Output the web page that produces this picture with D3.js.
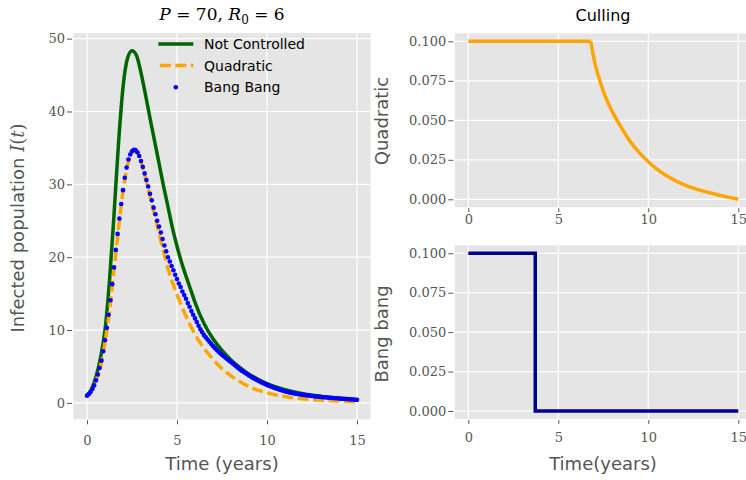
<!DOCTYPE html>
<html><head><meta charset="utf-8">
<script src="https://cdn.jsdelivr.net/npm/d3@7"></script>
<style>body{margin:0;background:#fff}</style>
</head><body>
<svg id="c" width="746" height="480"></svg>
<script>
// ---------- data ----------
const timeNC = [0,0.25,0.5,0.75,1,1.25,1.5,1.75,2,2.25,2.5,2.75,3,3.25,3.5,3.75,4,4.25,4.5,4.75,5,5.25,5.5,5.75,6,6.5,7,7.5,8,8.5,9,9.5,10,11,12,13,14,15];
const notControlled = [1.0,1.9,3.6,6.2,10.0,16.8,25.8,35.6,43.3,47.3,48.35,47.7,45.3,42.3,39.1,36.0,32.9,29.8,26.9,24.0,21.5,19.3,17.4,15.6,13.8,10.9,8.8,7.2,5.9,4.85,3.95,3.25,2.65,1.8,1.25,0.9,0.6,0.4];

const timeQ = [0,0.25,0.5,0.75,1,1.25,1.5,1.75,2,2.25,2.5,2.75,3,3.25,3.5,3.75,4,4.25,4.5,4.75,5,5.25,5.5,5.75,6,6.5,7,7.5,8,8.5,9,9.5,10,10.5,11,11.5,12,12.5,13,13.5,14,14.5,15];
const quadratic = [1.0,1.6,3.0,5.0,8.3,12.6,18.2,23.9,29.0,32.6,34.4,34.5,33.1,30.9,28.4,25.9,23.3,20.8,18.4,16.5,14.9,13.3,11.9,10.6,9.4,7.5,6.0,4.7,3.7,2.9,2.25,1.75,1.38,1.1,0.88,0.7,0.56,0.46,0.37,0.31,0.25,0.2,0.16];

const bangStep = 0.1; // sampling interval (years) of the Bang Bang series
const bangBang = [
 1.0,1.2,1.5,1.9,2.4,3.1,3.9,4.8,5.8,7.1,
 8.6,10.3,12.1,14.1,16.3,18.6,21.0,23.2,25.3,27.3,
 29.2,30.9,32.3,33.4,34.1,34.55,34.75,34.7,34.4,33.9,
 33.2,32.4,31.5,30.6,29.7,28.7,27.8,26.8,25.9,25.0,
 24.2,23.4,22.5,21.6,20.8,20.0,19.4,18.8,18.2,17.6,
 17.0,16.4,15.9,15.3,14.8,14.3,13.7,13.2,12.6,12.1,
 11.6,11.1,10.6,10.1,9.7,9.3,9.0,8.7,8.4,8.1,
 7.8,7.55,7.3,7.05,6.8,6.6,6.4,6.2,6.0,5.8,
 5.6,5.4,5.2,5.0,4.8,4.6,4.43,4.26,4.1,3.93,
 3.77,3.62,3.47,3.33,3.19,3.06,2.93,2.81,2.69,2.58,
 2.47,2.37,2.27,2.17,2.08,1.99,1.9,1.82,1.74,1.66,
 1.59,1.53,1.47,1.41,1.36,1.31,1.26,1.22,1.18,1.14,
 1.10,1.07,1.04,1.01,0.98,0.95,0.92,0.89,0.87,0.84,
 0.82,0.79,0.77,0.75,0.73,0.71,0.69,0.67,0.65,0.63,
 0.61,0.59,0.57,0.56,0.54,0.52,0.50,0.48,0.46,0.44,
 0.42];

const timeQC = [0,6.8,7,7.5,8,8.5,9,9.5,10,10.5,11,11.5,12,12.5,13,13.5,14,14.5,15];
const quadControl = [0.1,0.1,0.088,0.0685,0.0555,0.0455,0.0365,0.0295,0.0238,0.019,0.015,0.0118,0.0092,0.0071,0.0053,0.0038,0.0025,0.0012,0];

const timeBC = [0,3.72,3.72,15];
const bangControl = [0.1,0.1,0,0];

const xTicks = [0,5,10,15];
const yTicksI = [0,10,20,30,40,50];
const yTicksU = [0,0.025,0.05,0.075,0.1];
const legendLabels = ["Not Controlled","Quadratic","Bang Bang"];

// ---------- layout ----------
const svg = d3.select('#c');
const BG = '#e5e5e5', TXT = '#555';
const SERIF = "'DejaVu Serif', serif", SANS = "'DejaVu Sans', sans-serif";
const xDom = [-0.75, 15.75];

const allI = notControlled.concat(quadratic, bangBang);
const [iMin, iMax] = d3.extent(allI);
const iPad = (iMax - iMin) * 0.05;

const L = {x0:73.5, x1:370.5, y0:33.1, y1:419.3};
const RT = {x0:454.8, x1:751.8, y0:33.4, y1:207.2};
const RB = {x0:454.8, x1:751.8, y0:245.4, y1:418.9};

function makePanel(box, yDom, yTicks, fmt, xLabTop) {
  const x = d3.scaleLinear().domain(xDom).range([box.x0, box.x1]);
  const y = d3.scaleLinear().domain(yDom).range([box.y1, box.y0]);
  const g = svg.append('g');
  g.append('rect').attr('x', box.x0).attr('y', box.y0)
    .attr('width', box.x1 - box.x0).attr('height', box.y1 - box.y0).attr('fill', BG);
  g.selectAll('.gx').data(xTicks).join('line')
    .attr('x1', d => x(d)).attr('x2', d => x(d)).attr('y1', box.y0).attr('y2', box.y1)
    .attr('stroke', '#fff').attr('stroke-width', 1.2);
  g.selectAll('.gy').data(yTicks).join('line')
    .attr('y1', d => y(d)).attr('y2', d => y(d)).attr('x1', box.x0).attr('x2', box.x1)
    .attr('stroke', '#fff').attr('stroke-width', 1.2);
  const ay = g.append('g').attr('transform', `translate(${box.x0 - 1.5},0)`)
    .call(d3.axisLeft(y).tickValues(yTicks).tickFormat(fmt).tickSize(5).tickPadding(2));
  const ax = g.append('g').attr('transform', `translate(0,${box.y1 + 1})`)
    .call(d3.axisBottom(x).tickValues(xTicks).tickFormat(d3.format('d')).tickSize(4).tickPadding(xLabTop));
  [ay, ax].forEach(a => {
    a.select('.domain').remove();
    a.selectAll('line').attr('stroke', TXT).attr('stroke-width', 1);
    a.selectAll('text').attr('fill', TXT).attr('font-family', SERIF).attr('font-size', 13);
  });
  return {x, y, g};
}

const pL = makePanel(L, [iMin - iPad, iMax + iPad], yTicksI, d3.format('d'), 11);
const pT = makePanel(RT, [-0.005, 0.105], yTicksU, d3.format('.3f'), 3);
const pB = makePanel(RB, [-0.005, 0.105], yTicksU, d3.format('.3f'), 9);

// ---------- left: infected population ----------
const GREEN = '#006400', ORANGE = '#ffa500', BLUE = '#0000ff', NAVY = '#00008b';
const lineL = d3.line().x(d => pL.x(d[0])).y(d => pL.y(d[1])).curve(d3.curveMonotoneX);
pL.g.append('path').attr('d', lineL(timeNC.map((t, i) => [t, notControlled[i]])))
  .attr('fill', 'none').attr('stroke', GREEN).attr('stroke-width', 3.5);
pL.g.append('path').attr('d', lineL(timeQ.map((t, i) => [t, quadratic[i]])))
  .attr('fill', 'none').attr('stroke', ORANGE).attr('stroke-width', 3.5).attr('stroke-dasharray', '11,4.5');
pL.g.selectAll('.bb').data(bangBang).join('circle')
  .attr('cx', (d, i) => pL.x(i * bangStep)).attr('cy', d => pL.y(d)).attr('r', 2.3).attr('fill', BLUE);

// legend
const lg = svg.append('g');
const legY = [44, 65.5, 87.3];
lg.append('line').attr('x1', 158.3).attr('x2', 193.3).attr('y1', legY[0]).attr('y2', legY[0])
  .attr('stroke', GREEN).attr('stroke-width', 3.5);
lg.append('line').attr('x1', 158.3).attr('x2', 193.3).attr('y1', legY[1]).attr('y2', legY[1])
  .attr('stroke', ORANGE).attr('stroke-width', 3.5).attr('stroke-dasharray', '11,4.5').attr('stroke-dashoffset', -1.5);
lg.append('circle').attr('cx', 175.8).attr('cy', legY[2]).attr('r', 2.3).attr('fill', BLUE);
lg.selectAll('text').data(legendLabels).join('text')
  .attr('x', 204).attr('y', (d, i) => legY[i] + 5).text(d => d)
  .attr('font-family', SANS).attr('font-size', 14).attr('fill', '#000');

// ---------- right: controls ----------
const lineT = d3.line().x(d => pT.x(d[0])).y(d => pT.y(d[1]));
const qPts = timeQC.map((t, i) => [t, quadControl[i]]);
pT.g.append('path').attr('d', lineT(qPts.slice(0, 2)))
  .attr('fill', 'none').attr('stroke', ORANGE).attr('stroke-width', 3.5);
pT.g.append('path').attr('d', lineT.curve(d3.curveMonotoneX)(qPts.slice(1)))
  .attr('fill', 'none').attr('stroke', ORANGE).attr('stroke-width', 3.5);

const lineB = d3.line().x(d => pB.x(d[0])).y(d => pB.y(d[1]));
pB.g.append('path').attr('d', lineB(timeBC.map((t, i) => [t, bangControl[i]])))
  .attr('fill', 'none').attr('stroke', NAVY).attr('stroke-width', 3.5);

// ---------- titles & labels ----------
const title = svg.append('text').attr('x', 222).attr('y', 20).attr('text-anchor', 'middle')
  .attr('font-family', SERIF).attr('font-size', 17).attr('fill', '#000');
title.append('tspan').attr('font-style', 'italic').text('P');
title.append('tspan').text(' = 70, ');
title.append('tspan').attr('font-style', 'italic').text('R');
title.append('tspan').attr('font-size', 12).attr('dy', 4).text('0');
title.append('tspan').attr('dy', -4).text(' = 6');

svg.append('text').attr('x', 603).attr('y', 21).attr('text-anchor', 'middle')
  .attr('font-family', SANS).attr('font-size', 16).attr('fill', '#000').text('Culling');

svg.append('text').attr('x', 222).attr('y', 470).attr('text-anchor', 'middle')
  .attr('font-family', SANS).attr('font-size', 18).attr('fill', TXT).text('Time (years)');
svg.append('text').attr('x', 603).attr('y', 470).attr('text-anchor', 'middle')
  .attr('font-family', SANS).attr('font-size', 18).attr('fill', TXT).text('Time(years)');

const yl = svg.append('text').attr('transform', 'translate(24,228) rotate(-90)').attr('text-anchor', 'middle')
  .attr('font-family', SANS).attr('font-size', 18).attr('fill', TXT);
yl.append('tspan').text('Infected population ');
yl.append('tspan').attr('font-family', SERIF).attr('font-style', 'italic').text('I');
yl.append('tspan').attr('font-family', SERIF).text('(');
yl.append('tspan').attr('font-family', SERIF).attr('font-style', 'italic').text('t');
yl.append('tspan').attr('font-family', SERIF).text(')');

svg.append('text').attr('transform', 'translate(388,121) rotate(-90)').attr('text-anchor', 'middle')
  .attr('font-family', SANS).attr('font-size', 18).attr('fill', TXT).text('Quadratic');
svg.append('text').attr('transform', 'translate(388,334) rotate(-90)').attr('text-anchor', 'middle')
  .attr('font-family', SANS).attr('font-size', 18).attr('fill', TXT).text('Bang bang');
</script>
</body></html>
